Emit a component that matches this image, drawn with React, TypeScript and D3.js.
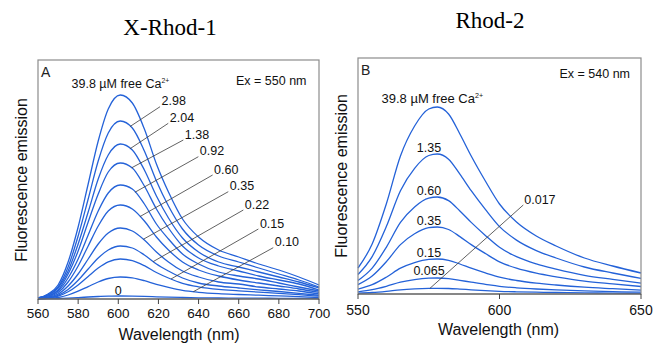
import React, { useEffect, useRef } from 'react';
import * as d3 from 'd3';

// ---- Panel A: X-Rhod-1 (Ex = 550 nm) ----
const wavelengthsA = [560, 565, 570, 575, 580, 585, 590, 595, 601, 607, 613, 619, 625, 632, 640, 650, 660, 670, 680, 690, 700];
const xrhod_398 = [1, 5, 14, 37, 72, 115, 158, 190, 204, 196, 170, 135, 107, 80, 62, 49, 42, 35, 29, 22, 14];
const xrhod_298 = [1, 4, 12, 32, 63, 100, 138, 166, 178, 171, 148, 118, 93, 70, 54, 43, 37, 31, 25, 19, 12];
const xrhod_204 = [1, 4, 11, 28, 55, 87, 120, 144, 155, 149, 129, 103, 81, 61, 47, 37, 32, 27, 22, 17, 11];
const xrhod_138 = [1, 3, 9, 25, 48, 77, 105, 127, 136, 131, 113, 90, 71, 53, 41, 33, 28, 23, 19, 15, 9];
const xrhod_092 = [1, 3, 8, 21, 40, 64, 88, 106, 114, 110, 95, 75, 60, 45, 35, 27, 23, 20, 16, 12, 8];
const xrhod_060 = [0.5, 2, 6.5, 17, 33, 53, 73, 88, 94, 90, 78, 62, 49, 37, 29, 23, 19, 16, 13, 10, 6.5];
const xrhod_035 = [0.4, 1.8, 4.9, 13, 25, 40, 55, 66, 71, 68, 59, 47, 37, 28, 22, 17, 15, 12, 10, 8, 5];
const xrhod_022 = [0.3, 1.3, 3.7, 9.6, 18.7, 30, 41, 49, 53, 51, 44, 35, 28, 21, 16, 13, 11, 9.1, 7.5, 5.7, 3.7];
const xrhod_015 = [0.2, 1, 2.8, 7.2, 14.1, 22.6, 31, 37.2, 40, 38.4, 33.3, 26.5, 21, 15.7, 12.2, 9.6, 8.2, 6.9, 5.7, 4.3, 2.8];
const xrhod_010 = [0.1, 0.6, 1.5, 4, 7.8, 12.4, 17, 20.5, 22, 21.1, 18.3, 14.6, 11.6, 8.6, 6.7, 5.3, 4.5, 3.8, 3.1, 2.4, 1.5];
const xrhod_0 = [0.2, 0.3, 0.5, 0.9, 1.4, 2, 2.5, 2.9, 3, 2.9, 2.6, 2.2, 1.8, 1.5, 1.2, 1, 0.9, 0.8, 0.7, 0.6, 0.5];
const ticksA = [560, 580, 600, 620, 640, 660, 680, 700];

// leader lines: concentration, wavelength on curve, label end point (wavelength, intensity)
const leadersA = [
  { label: '2.98', curve: xrhod_298, at: 605.8, end: [620.8, 192.3] },
  { label: '2.04', curve: xrhod_204, at: 605.8, end: [624.9, 175.7] },
  { label: '1.38', curve: xrhod_138, at: 606.7, end: [632.4, 159] },
  { label: '0.92', curve: xrhod_092, at: 608.3, end: [639.9, 142.3] },
  { label: '0.60', curve: xrhod_060, at: 610.8, end: [647, 124] },
  { label: '0.35', curve: xrhod_035, at: 612.5, end: [654.8, 107.3] },
  { label: '0.22', curve: xrhod_022, at: 617.4, end: [662.3, 89] },
  { label: '0.15', curve: xrhod_015, at: 626.3, end: [669.8, 70] },
  { label: '0.10', curve: xrhod_010, at: 637.4, end: [677.2, 51.3] },
];

// ---- Panel B: Rhod-2 (Ex = 540 nm) ----
const wavelengthsB = [550, 555, 560, 565, 570, 575, 578, 582, 586, 590, 595, 600, 606, 613, 620, 630, 640, 650];
const rhod_398 = [26, 50, 90, 138, 168, 185, 187, 180, 160, 138, 113, 90, 72, 58, 48, 36, 28, 21];
const rhod_135 = [19.5, 37.4, 67.4, 103.3, 125.7, 138.5, 140, 134.8, 119.8, 103.3, 84.6, 67.4, 53.9, 43.4, 36, 27, 21, 15.7];
const rhod_060 = [13.5, 25.9, 46.7, 71.6, 87.1, 95.9, 97, 93.4, 83, 71.6, 58.6, 46.7, 37.3, 30.1, 24.9, 18.7, 14.6, 10.9];
const rhod_035 = [9.3, 17.9, 32.2, 49.4, 60.2, 66.3, 67, 64.5, 57.4, 49.4, 40.5, 32.2, 25.8, 20.8, 17.2, 12.9, 10.1, 7.5];
const rhod_015 = [4.9, 9.3, 16.8, 25.8, 31.4, 34.6, 35, 33.7, 30, 25.8, 21.1, 16.8, 13.5, 10.9, 9, 6.8, 5.3, 3.9];
const rhod_0065 = [2.2, 4.3, 7.7, 11.8, 14.4, 15.8, 16, 15.4, 13.7, 11.8, 9.7, 7.7, 6.2, 5, 4.1, 3.1, 2.4, 1.8];
const rhod_0017 = [0.8, 1.5, 2.7, 4.2, 5.1, 5.6, 5.7, 5.5, 4.9, 4.2, 3.4, 2.7, 2.2, 1.8, 1.5, 1.1, 0.9, 0.6];
const ticksB = [550, 600, 650];

// centred labels above the peaks
const peakLabelsB = [
  { label: '1.35', at: 575.1, level: 142 },
  { label: '0.60', at: 575.1, level: 99 },
  { label: '0.35', at: 575.1, level: 69 },
  { label: '0.15', at: 575.1, level: 37 },
  { label: '0.065', at: 575.1, level: 19 },
];

const FONT = '"Liberation Sans", Arial, Helvetica, sans-serif';
const SERIF = '"Liberation Serif", "Times New Roman", serif';
const LINE = '#2462d8';

const valueAt = (wl: number[], vals: number[], w: number) => {
  const i = Math.max(1, Math.min(wl.length - 1, d3.bisectLeft(wl, w)));
  const t = (w - wl[i - 1]) / (wl[i] - wl[i - 1]);
  return vals[i - 1] + t * (vals[i] - vals[i - 1]);
};

const App = () => {
  const svgRef = useRef(null);

  useEffect(() => {
    const svg = d3.select(svgRef.current);
    svg.selectAll('*').remove();

    const drawFrame = (g, x, y, ticks, tickSize, tickBaseline) => {
      const [x0, x1] = x.range();
      const [yb, yt] = y.range();
      g.append('rect')
        .attr('x', x0).attr('y', yt)
        .attr('width', x1 - x0).attr('height', yb - yt)
        .attr('fill', 'none').attr('stroke', '#8c8c8c').attr('stroke-width', 1.2);
      g.append('line')
        .attr('x1', x0).attr('x2', x1).attr('y1', yb).attr('y2', yb)
        .attr('stroke', '#555').attr('stroke-width', 1.2);
      g.selectAll('.tick').data(ticks).enter().append('line')
        .attr('x1', d => x(d)).attr('x2', d => x(d))
        .attr('y1', yb).attr('y2', yb + 5)
        .attr('stroke', '#444').attr('stroke-width', 1);
      g.selectAll('.ticklabel').data(ticks).enter().append('text')
        .attr('x', d => x(d)).attr('y', tickBaseline)
        .attr('text-anchor', 'middle')
        .attr('font-family', FONT).attr('font-size', tickSize)
        .attr('fill', '#111')
        .text(d => d);
    };

    const drawCurves = (g, x, y, wl, series) => {
      const line = d3.line<number>()
        .x((d, i) => x(wl[i]))
        .y(d => y(d))
        .curve(d3.curveMonotoneX);
      g.selectAll('.curve').data(series).enter().append('path')
        .attr('d', d => line(d))
        .attr('fill', 'none')
        .attr('stroke', LINE)
        .attr('stroke-width', 1.3);
    };

    const caLabel = (g, xPos, yPos, size) => {
      const t = g.append('text')
        .attr('x', xPos).attr('y', yPos)
        .attr('font-family', FONT).attr('font-size', size).attr('fill', '#111');
      t.append('tspan').text('39.8 µM free Ca');
      t.append('tspan').attr('dy', -5).attr('font-size', size * 0.55).text('2+');
    };

    // ---------- Panel A ----------
    const xA = d3.scaleLinear().domain([560, 700]).range([38, 319]);
    const yA = d3.scaleLinear().domain([0, 239]).range([299, 60]);
    const gA = svg.append('g');
    drawCurves(gA, xA, yA, wavelengthsA, [
      xrhod_398, xrhod_298, xrhod_204, xrhod_138, xrhod_092, xrhod_060,
      xrhod_035, xrhod_022, xrhod_015, xrhod_010, xrhod_0,
    ]);
    drawFrame(gA, xA, yA, ticksA, 13.5, 318);

    leadersA.forEach(l => {
      const sx = xA(l.at);
      const sy = yA(valueAt(wavelengthsA, l.curve, l.at));
      const ex = xA(l.end[0]);
      const ey = yA(l.end[1]);
      gA.append('line')
        .attr('x1', sx).attr('y1', sy).attr('x2', ex).attr('y2', ey)
        .attr('stroke', '#3a3a3a').attr('stroke-width', 0.8);
      gA.append('text')
        .attr('x', ex + 1.5).attr('y', ey - 1.5)
        .attr('font-family', FONT).attr('font-size', 12.5).attr('fill', '#111')
        .text(l.label);
    });
    gA.append('text')
      .attr('x', xA(600)).attr('y', 295)
      .attr('text-anchor', 'middle')
      .attr('font-family', FONT).attr('font-size', 12.5).attr('fill', '#111')
      .text('0');
    caLabel(gA, 71.5, 88, 12.5);
    gA.append('text')
      .attr('x', 306.5).attr('y', 85).attr('text-anchor', 'end')
      .attr('font-family', FONT).attr('font-size', 12.5).attr('fill', '#111')
      .text('Ex = 550 nm');
    gA.append('text')
      .attr('x', 41).attr('y', 77)
      .attr('font-family', FONT).attr('font-size', 14).attr('font-weight', 300).attr('fill', '#222')
      .text('A');
    gA.append('text')
      .attr('x', 179).attr('y', 340).attr('text-anchor', 'middle')
      .attr('font-family', FONT).attr('font-size', 16).attr('fill', '#111')
      .text('Wavelength (nm)');
    gA.append('text')
      .attr('transform', 'translate(27,180) rotate(-90)')
      .attr('text-anchor', 'middle')
      .attr('font-family', FONT).attr('font-size', 16).attr('fill', '#111')
      .text('Fluorescence emission');
    gA.append('text')
      .attr('x', 170).attr('y', 35).attr('text-anchor', 'middle')
      .attr('font-family', SERIF).attr('font-size', 23).attr('fill', '#000')
      .text('X-Rhod-1');

    // ---------- Panel B ----------
    const xB = d3.scaleLinear().domain([550, 650]).range([358, 641]);
    const yB = d3.scaleLinear().domain([0, 236]).range([294, 58]);
    const gB = svg.append('g');
    drawCurves(gB, xB, yB, wavelengthsB, [
      rhod_398, rhod_135, rhod_060, rhod_035, rhod_015, rhod_0065, rhod_0017,
    ]);
    drawFrame(gB, xB, yB, ticksB, 14, 315);

    peakLabelsB.forEach(l => {
      gB.append('text')
        .attr('x', xB(l.at)).attr('y', yB(l.level))
        .attr('text-anchor', 'middle')
        .attr('font-family', FONT).attr('font-size', 12.5).attr('fill', '#111')
        .text(l.label);
    });
    const lb = { at: 575.4, end: [608.4, 89] };
    const lbx = xB(lb.at);
    const lby = yB(valueAt(wavelengthsB, rhod_0017, lb.at));
    gB.append('line')
      .attr('x1', lbx).attr('y1', lby)
      .attr('x2', xB(lb.end[0])).attr('y2', yB(lb.end[1]))
      .attr('stroke', '#3a3a3a').attr('stroke-width', 0.8);
    gB.append('text')
      .attr('x', xB(lb.end[0]) + 1).attr('y', yB(lb.end[1]) - 1.5)
      .attr('font-family', FONT).attr('font-size', 12.5).attr('fill', '#111')
      .text('0.017');
    caLabel(gB, 381.5, 103, 13);
    gB.append('text')
      .attr('x', 630).attr('y', 78).attr('text-anchor', 'end')
      .attr('font-family', FONT).attr('font-size', 12.5).attr('fill', '#111')
      .text('Ex = 540 nm');
    gB.append('text')
      .attr('x', 361).attr('y', 75)
      .attr('font-family', FONT).attr('font-size', 14).attr('font-weight', 300).attr('fill', '#222')
      .text('B');
    gB.append('text')
      .attr('x', 498.5).attr('y', 335).attr('text-anchor', 'middle')
      .attr('font-family', FONT).attr('font-size', 16).attr('fill', '#111')
      .text('Wavelength (nm)');
    gB.append('text')
      .attr('transform', 'translate(347,176) rotate(-90)')
      .attr('text-anchor', 'middle')
      .attr('font-family', FONT).attr('font-size', 16).attr('fill', '#111')
      .text('Fluorescence emission');
    gB.append('text')
      .attr('x', 490).attr('y', 28).attr('text-anchor', 'middle')
      .attr('font-family', SERIF).attr('font-size', 23).attr('fill', '#000')
      .text('Rhod-2');
  }, []);

  return (
    <svg
      ref={svgRef}
      width={654}
      height={345}
      style={{ position: 'absolute', left: 0, top: 0, background: '#fff' }}
    />
  );
};

export default App;
